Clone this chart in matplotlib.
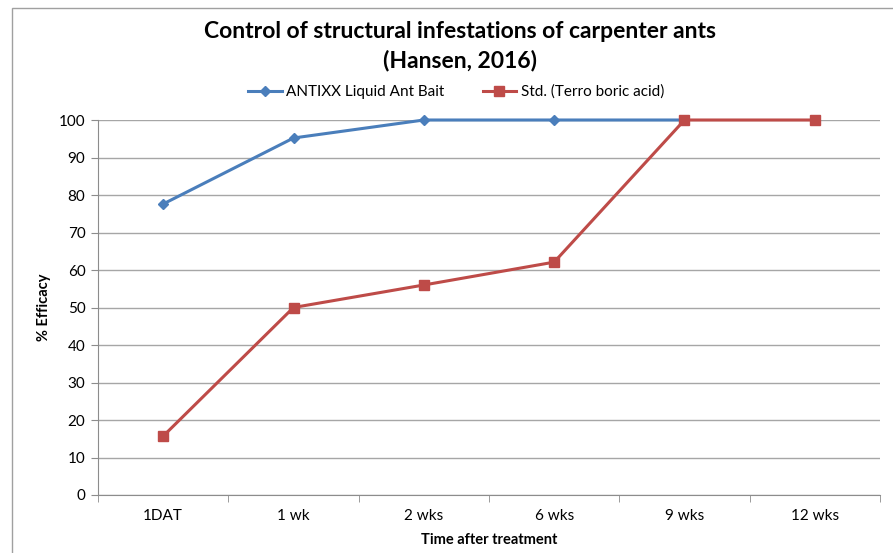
import matplotlib.pyplot as plt
from matplotlib.patches import Rectangle

# chart data
categories = ['1DAT', '1 wk', '2 wks', '6 wks', '9 wks', '12 wks']
antixx = [77.6, 95.2, 100, 100, 100]
terro = [15.7, 50, 56, 62.1, 100, 100]

plt.rcParams['font.family'] = ['Lato', 'DejaVu Sans']

W, H = 893, 553
fig = plt.figure(figsize=(W / 100, H / 100), dpi=100)

# outer chart frame (runs off right and bottom edge like the screenshot)
fig.patches.append(Rectangle((12 / W, -0.1), 1.2, 1 - 8 / H + 0.1,
                             transform=fig.transFigure, fill=False,
                             edgecolor='#a0a0a0', linewidth=1.0))

ax = fig.add_axes([98 / W, 1 - 495 / H, (880 - 98) / W, (495 - 120) / H])

x = list(range(len(categories)))
ax.plot(x[:len(antixx)], antixx, color='#4a7ebb', linewidth=2.2,
        marker='D', markersize=5, label='ANTIXX Liquid Ant Bait', clip_on=False)
ax.plot(x, terro, color='#be4b48', linewidth=2.2,
        marker='s', markersize=7, label='Std. (Terro boric acid)', clip_on=False)

ax.set_xlim(-0.5, len(categories) - 0.5)
ax.set_ylim(0, 100)
ax.set_yticks(range(0, 101, 10))
ax.set_xticks(x)
ax.set_xticklabels(categories)
ax.set_xticks([i - 0.5 for i in range(len(categories) + 1)], minor=True)

ax.grid(axis='y', color='#a6a6a6', linewidth=1.0)
ax.set_axisbelow(True)
for s in ['top', 'right']:
    ax.spines[s].set_visible(False)
for s in ['left', 'bottom']:
    ax.spines[s].set_color('#8c8c8c')
ax.tick_params(axis='x', which='major', length=0, pad=10, labelsize=11)
ax.tick_params(axis='x', which='minor', length=5, color='#8c8c8c')
ax.tick_params(axis='y', length=5, color='#8c8c8c', labelsize=11, pad=4)

ax.set_xlabel('Time after treatment', fontweight='bold', fontsize=10.5, labelpad=7)
ax.set_ylabel('% Efficacy', fontweight='bold', fontsize=10.5, labelpad=6)

fig.text(460 / W, 1 - 46 / H, 'Control of structural infestations of carpenter ants\n(Hansen, 2016)',
         ha='center', va='center', fontsize=16.5, fontweight='bold', linespacing=1.4)

ax.legend(loc='center', bbox_to_anchor=(456 / W, 1 - 92 / H), bbox_transform=fig.transFigure,
          ncol=2, frameon=False, fontsize=11, handlelength=2.2, columnspacing=2.5,
          handletextpad=0.3)

plt.savefig('out.png', dpi=100)
